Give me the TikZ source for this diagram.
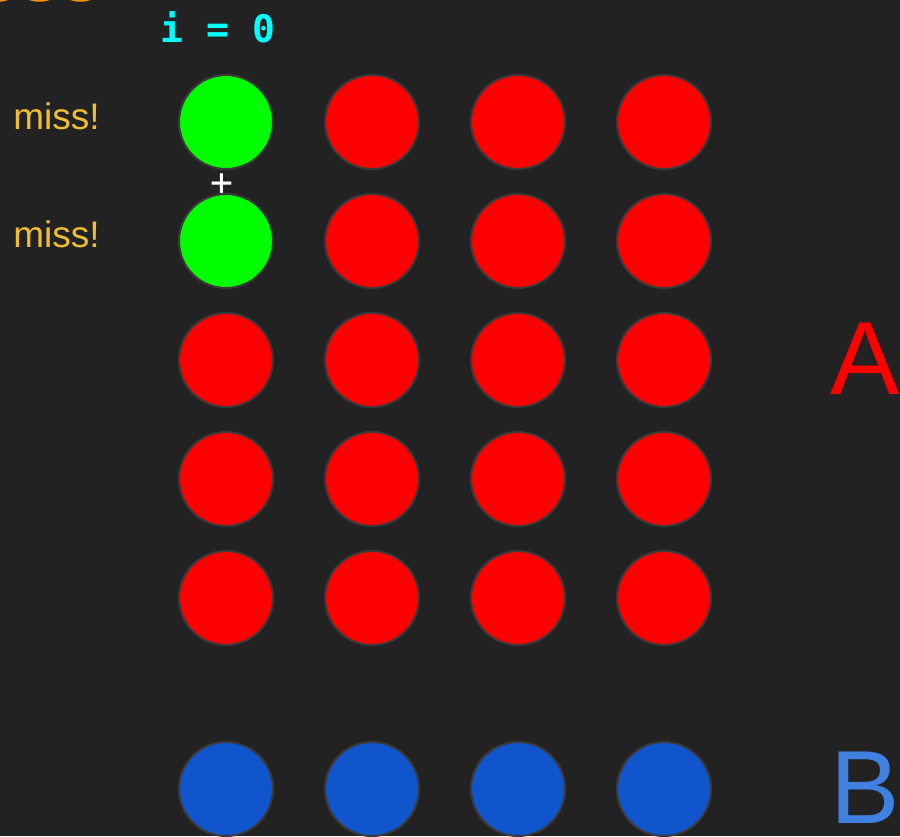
\documentclass[tikz,border=0pt]{standalone}
\usepackage{fontspec}
\setmainfont{Liberation Sans}
\setmonofont{DejaVu Sans Mono}
\definecolor{bg}{RGB}{34,34,34}
\definecolor{missred}{RGB}{255,0,0}
\definecolor{hitgreen}{RGB}{0,255,0}
\definecolor{bblue}{RGB}{17,85,204}
\definecolor{labelblue}{RGB}{64,128,224}
\definecolor{missgold}{RGB}{240,190,50}
\definecolor{titleorange}{RGB}{242,146,12}
\definecolor{indexcyan}{RGB}{0,255,255}
\definecolor{rim}{RGB}{58,58,58}
\tikzset{
  cell/.style={circle,draw=rim,line width=1pt,minimum size=47pt,inner sep=0pt},
  misslabel/.style={anchor=base west,inner sep=0pt,text=missgold,font=\fontsize{18.5}{18.5}\selectfont},
  biglabel/.style={anchor=base west,inner sep=0pt,font=\fontsize{52}{52}\selectfont}
}
\begin{document}
\begin{tikzpicture}[x=0.5pt,y=-0.5pt]
    \useasboundingbox (0,0) rectangle (900,836);
    \fill[bg] (0,0) rectangle (900,836);
    \clip (0,0) rectangle (900,836);
    % title, cut off at the top
    \node[anchor=base west,inner sep=0pt,text=titleorange,font=\fontsize{37}{37}\selectfont\bfseries] (title) at (-22,1) {ess};
    \node[anchor=base,inner sep=0pt,text=indexcyan,font=\fontsize{19}{19}\selectfont\ttfamily\bfseries] (index) at (218,42) {i = 0};
    % block A
    \foreach \r in {1,...,5}
      \foreach \c in {1,...,4} {
        \ifnum\c=1 \ifnum\r<3 \def\cellcol{hitgreen}\else\def\cellcol{missred}\fi\else\def\cellcol{missred}\fi
        \node[cell,fill=\cellcol] (a\r\c) at ({226+146*(\c-1)},{122+119*(\r-1)}) {};
      }
    % block B
    \foreach \c in {1,...,4}
      \node[cell,fill=bblue] (b\c) at ({226+146*(\c-1)},789) {};
    \node[misslabel] (miss1) at (13,129) {miss!};
    \node[misslabel] (miss2) at (13,247) {miss!};
    \node[inner sep=0pt,text=white,font=\fontsize{19}{19}\selectfont\ttfamily] (plus) at (222,185) {+};
    \node[biglabel,text=missred] (labA) at (830,394) {A};
    \node[biglabel,text=labelblue] (labB) at (830,823) {B};
\end{tikzpicture}
\end{document}
